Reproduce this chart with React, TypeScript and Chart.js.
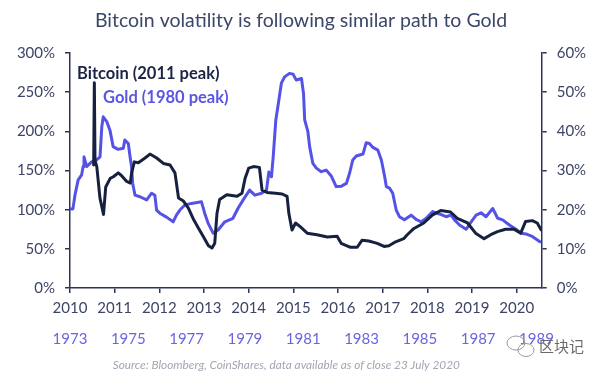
import React, { useEffect, useRef } from "react";
import { Chart, registerables } from "chart.js";

Chart.register(...registerables);

// ---------- data ----------
const btcYears = [
  2010.53, 2010.545, 2010.56, 2010.6, 2010.67, 2010.75, 2010.8, 2010.9, 2010.97, 2011.08,
  2011.16, 2011.27, 2011.35, 2011.38, 2011.44, 2011.53, 2011.68, 2011.79, 2011.94, 2012.09,
  2012.24, 2012.35, 2012.43, 2012.54, 2012.65, 2012.77, 2012.88, 2012.99, 2013.1, 2013.18,
  2013.24, 2013.29, 2013.35, 2013.51, 2013.74, 2013.85, 2013.92, 2014.0, 2014.11, 2014.24,
  2014.3, 2014.41, 2014.6, 2014.75, 2014.86, 2014.9, 2014.97, 2015.05, 2015.16, 2015.31,
  2015.53, 2015.76, 2015.98, 2016.07, 2016.28, 2016.43, 2016.54, 2016.69, 2016.88, 2017.03,
  2017.14, 2017.29, 2017.47, 2017.55, 2017.7, 2017.92, 2018.11, 2018.3, 2018.52, 2018.67,
  2018.9, 2019.08, 2019.27, 2019.42, 2019.57, 2019.75, 2019.94, 2020.09, 2020.2, 2020.35,
  2020.46, 2020.55,
];
const btcVol = [
  157, 262, 163, 155, 115, 94, 129, 140, 142, 147,
  143, 136, 134, 147, 161, 160, 166, 171, 166, 159,
  157, 147, 115, 111, 102, 87, 76, 65, 54, 51,
  57, 95, 113, 119, 117, 121, 140, 153, 155, 154,
  125, 122, 121, 120, 117, 95, 74, 83, 78, 70,
  68, 65, 66, 57, 52, 52, 61, 60, 57, 53,
  54, 59, 63, 68, 76, 83, 93, 99, 97, 89,
  83, 70, 63, 68, 72, 75, 75, 70, 85, 86,
  83, 74,
];

const goldYears = [
  1973.02, 1973.1, 1973.17, 1973.28, 1973.4, 1973.45, 1973.48, 1973.57, 1973.74, 1973.91,
  1974.03, 1974.09, 1974.14, 1974.26, 1974.37, 1974.48, 1974.65, 1974.83, 1974.88, 1975.0,
  1975.06, 1975.11, 1975.15, 1975.23, 1975.4, 1975.63, 1975.8, 1975.91, 1975.97, 1976.08,
  1976.31, 1976.54, 1976.65, 1976.77, 1976.94, 1977.17, 1977.51, 1977.62, 1977.74, 1977.91,
  1978.08, 1978.31, 1978.59, 1978.76, 1978.94, 1979.16, 1979.34, 1979.57, 1979.74, 1979.82,
  1979.91, 1979.97, 1980.06, 1980.13, 1980.25, 1980.36, 1980.53, 1980.65, 1980.76, 1980.94,
  1981.01, 1981.05, 1981.16, 1981.22, 1981.33, 1981.45, 1981.62, 1981.79, 1981.96, 1982.13,
  1982.31, 1982.48, 1982.59, 1982.7, 1982.82, 1983.05, 1983.16, 1983.27, 1983.39, 1983.56,
  1983.68, 1983.79, 1983.85, 1983.96, 1984.07, 1984.19, 1984.3, 1984.47, 1984.7, 1984.87,
  1985.05, 1985.22, 1985.44, 1985.67, 1985.9, 1986.07, 1986.19, 1986.36, 1986.59, 1986.76,
  1986.93, 1987.1, 1987.27, 1987.5, 1987.67, 1987.84, 1988.07, 1988.3, 1988.47, 1988.64,
  1988.87, 1989.12,
];
const goldVol = [
  20.2, 20.2, 23.7, 27.6, 28.9, 31.0, 33.5, 31.0, 32.2, 32.7,
  33.5, 41.1, 43.7, 42.5, 40.3, 36.1, 35.4, 35.7, 37.8, 36.9,
  33.5, 31.0, 26.7, 23.7, 23.3, 22.5, 24.2, 23.7, 19.9, 19.1,
  18.1, 16.9, 18.6, 19.9, 21.2, 21.6, 22.0, 19.1, 16.5, 14.0,
  14.8, 16.9, 17.8, 20.3, 22.5, 25.0, 23.7, 24.2, 25.0, 29.6,
  28.4, 33.5, 42.9, 46.3, 52.3, 53.9, 54.8, 54.6, 53.1, 53.5,
  49.7, 42.9, 39.9, 36.1, 31.8, 30.6, 29.7, 30.1, 28.6, 25.9,
  26.0, 26.7, 29.3, 32.7, 33.7, 34.2, 37.1, 36.9, 35.9, 35.2,
  32.7, 28.6, 25.9, 25.5, 24.2, 19.9, 18.2, 17.4, 18.6, 17.5,
  16.9, 17.8, 19.5, 18.9, 18.2, 18.6, 17.4, 16.1, 15.0, 16.9,
  18.6, 19.2, 18.2, 20.3, 17.8, 17.4, 16.1, 15.0, 14.0, 13.8,
  13.1, 11.8,
];

const btcAxisTicks = [2010, 2011, 2012, 2013, 2014, 2015, 2016, 2017, 2018, 2019, 2020];
const goldAxisTicks = [1973, 1975, 1977, 1979, 1981, 1983, 1985, 1987, 1989];
const leftTicks = [0, 50, 100, 150, 200, 250, 300];
const rightTicks = [0, 10, 20, 30, 40, 50, 60];

const btcRange = [2010, 2020.56];
const goldRange = [1973, 1989.18];

const TITLE = "Bitcoin volatility is following similar path to Gold";
const BTC_LABEL = "Bitcoin (2011 peak)";
const GOLD_LABEL = "Gold (1980 peak)";
const SOURCE = "Source: Bloomberg, CoinShares, data available as of close 23 July 2020";
const WATERMARK = "区块记";

// ---------- styles ----------
const FONT = "Lato";
const BTC_COLOR = "#16213f";
const GOLD_COLOR = "#5552e8";
const AXIS_COLOR = "#2e3455";
const TICK_TEXT = "#3e4466";
const GOLD_TICK_TEXT = "#6a64e0";

const textPlugin = {
  id: "textOverlay",
  afterDraw(chart: any) {
    const ctx = chart.ctx;
    ctx.save();
    ctx.textBaseline = "middle";

    ctx.font = `19.5px ${FONT}`;
    ctx.fillStyle = "#3b4769";
    ctx.textAlign = "center";
    ctx.fillText(TITLE, 301, 20.5);

    ctx.textAlign = "left";
    ctx.font = `bold 16.5px ${FONT}`;
    ctx.fillStyle = "#1b2442";
    ctx.fillText(BTC_LABEL, 77, 74);
    ctx.fillStyle = "#5a55e3";
    ctx.fillText(GOLD_LABEL, 103, 98);

    ctx.font = `italic 11.8px ${FONT}`;
    ctx.fillStyle = "#a2a6b4";
    ctx.fillText(SOURCE, 112.7, 365);

    // watermark
    ctx.strokeStyle = "#9a9a9a";
    ctx.lineWidth = 1;
    ctx.beginPath();
    ctx.ellipse(516, 343, 9, 7, 0, 0, Math.PI * 2);
    ctx.stroke();
    ctx.beginPath();
    ctx.ellipse(526, 350, 8, 6.5, 0, 0, Math.PI * 2);
    ctx.stroke();
    ctx.font = `15px "Noto Sans CJK SC"`;
    ctx.fillStyle = "#6a6a6a";
    ctx.fillText(WATERMARK, 539, 346);
    ctx.restore();
  },
};

export default function App() {
  const ref = useRef<HTMLCanvasElement | null>(null);

  useEffect(() => {
    if (!ref.current) return;
    const btcData = btcYears.map((x, i) => ({ x, y: btcVol[i] }));
    const goldData = goldYears.map((x, i) => ({ x, y: goldVol[i] }));

    const tickFont = { family: FONT, size: 15 };

    const chart = new Chart(ref.current, {
      type: "line",
      data: {
        datasets: [
          {
            label: BTC_LABEL,
            data: btcData,
            xAxisID: "x",
            yAxisID: "y",
            borderColor: BTC_COLOR,
            borderWidth: 3,
            pointRadius: 0,
            tension: 0,
            borderJoinStyle: "round",
            borderCapStyle: "round",
          },
          {
            label: GOLD_LABEL,
            data: goldData,
            xAxisID: "x2",
            yAxisID: "y2",
            borderColor: GOLD_COLOR,
            borderWidth: 3,
            pointRadius: 0,
            tension: 0,
            borderJoinStyle: "round",
            borderCapStyle: "round",
          },
        ],
      },
      options: {
        animation: false,
        responsive: false,
        layout: { padding: { top: 53, left: 0, right: 0, bottom: 23 } },
        plugins: {
          legend: { display: false },
          title: { display: false },
          tooltip: { enabled: false },
        },
        scales: {
          x: {
            type: "linear",
            position: "bottom",
            min: btcRange[0],
            max: btcRange[1],
            afterBuildTicks: (s: any) => {
              s.ticks = btcAxisTicks.map((v) => ({ value: v }));
            },
            afterFit: (s: any) => {
              s.height = 32;
            },
            ticks: {
              callback: (v: any) => String(v),
              font: tickFont,
              color: TICK_TEXT,
              padding: 6,
              maxRotation: 0,
              autoSkip: false,
            },
            grid: {
              drawOnChartArea: false,
              drawTicks: true,
              tickLength: 5,
              color: AXIS_COLOR,
              lineWidth: 1.5,
            },
            border: { display: true, color: AXIS_COLOR, width: 1.5 },
          },
          x2: {
            type: "linear",
            position: "bottom",
            min: goldRange[0],
            max: goldRange[1],
            afterBuildTicks: (s: any) => {
              s.ticks = goldAxisTicks.map((v) => ({ value: v }));
            },
            afterFit: (s: any) => {
              s.height = 30;
            },
            ticks: {
              callback: (v: any) => String(v),
              font: tickFont,
              color: GOLD_TICK_TEXT,
              padding: 10,
              maxRotation: 0,
              autoSkip: false,
            },
            grid: { display: false, drawTicks: false },
            border: { display: false },
          },
          y: {
            type: "linear",
            position: "left",
            min: 0,
            max: 300,
            afterBuildTicks: (s: any) => {
              s.ticks = leftTicks.map((v) => ({ value: v }));
            },
            afterFit: (s: any) => {
              s.width = 70;
            },
            ticks: {
              callback: (v: any) => v + "%",
              font: tickFont,
              color: TICK_TEXT,
              padding: 10,
            },
            grid: {
              drawOnChartArea: false,
              drawTicks: true,
              tickLength: 5,
              color: AXIS_COLOR,
              lineWidth: 1.5,
            },
            border: { display: true, color: AXIS_COLOR, width: 1.5 },
          },
          y2: {
            type: "linear",
            position: "right",
            min: 0,
            max: 60,
            afterBuildTicks: (s: any) => {
              s.ticks = rightTicks.map((v) => ({ value: v }));
            },
            afterFit: (s: any) => {
              s.width = 60.3;
            },
            ticks: {
              callback: (v: any) => v + "%",
              font: tickFont,
              color: TICK_TEXT,
              padding: 10,
            },
            grid: {
              drawOnChartArea: false,
              drawTicks: true,
              tickLength: 5,
              color: AXIS_COLOR,
              lineWidth: 1.5,
            },
            border: { display: true, color: AXIS_COLOR, width: 1.5 },
          },
        },
      } as any,
      plugins: [textPlugin],
    });
    return () => chart.destroy();
  }, []);

  return (
    <div style={{ position: "fixed", left: 0, top: 0, width: 602, height: 373, background: "#fff" }}>
      <canvas ref={ref} width={602} height={373} style={{ display: "block" }} />
    </div>
  );
}
